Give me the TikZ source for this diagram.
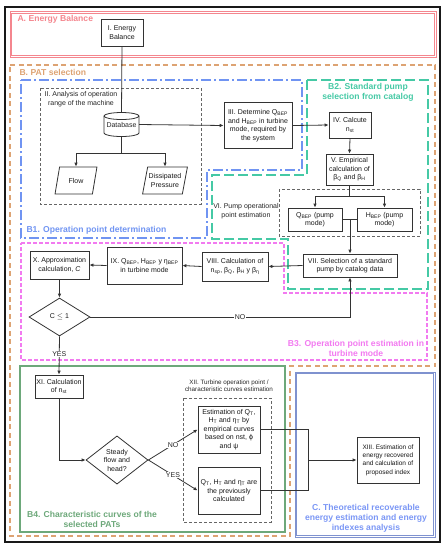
\documentclass[tikz,border=0pt]{standalone}
\usepackage{fontspec}
\setmainfont{Liberation Sans}
\usetikzlibrary{arrows.meta,shapes.geometric}
\definecolor{cA}{HTML}{F4868E}
\definecolor{cB}{HTML}{DDA373}
\definecolor{cBone}{HTML}{7094F2}
\definecolor{cBtwo}{HTML}{45C9A5}
\definecolor{cBthree}{HTML}{F27AF0}
\definecolor{cBfour}{HTML}{6DA87A}
\definecolor{cC}{HTML}{7F92CF}
\definecolor{cCt}{HTML}{7A96F5}
\newcommand{\mysub}[1]{\textsubscript{#1}}
\begin{document}
\begin{tikzpicture}[x=1pt,y=-1pt,
  box/.style={draw=black!80, line width=0.8pt, fill=white, align=center, inner sep=1pt, font=\fontsize{7}{8.5}\selectfont, text=black!90},
  conn/.style={draw=black!80, line width=0.8pt},
  arr/.style={conn, -{Latex[length=4pt,width=3.6pt]}},
  ttl/.style={font=\fontsize{8.6}{10}\selectfont\bfseries, align=center},
  lbl/.style={font=\fontsize{7}{8}\selectfont, fill=white, inner sep=0.5pt, text=black!85},
  plain/.style={font=\fontsize{7}{8.5}\selectfont, align=center, text=black!85},
  dashbox/.style={draw=black!60, line width=0.6pt, dash pattern=on 3pt off 2pt},
]
\useasboundingbox (0,0) rectangle (446,550);
% outer frame
\draw[line width=1.3pt, draw=black!90] (5,7) rectangle (440,542);
% A
\draw[draw=cA, line width=0.8pt] (10,11.5) rectangle (436,57);
\draw[draw=cA, line width=0.8pt] (11.7,13.2) rectangle (434.3,55.3);
\node[ttl, text=cA, anchor=west] (tA) at (14,19.5) {A. Energy Balance};
% B
\draw[draw=cB, line width=1.5pt, dash pattern=on 5pt off 3.5pt] (10,65) -- (435,65) -- (435,366) -- (290,366) -- (290,536) -- (10,536) -- cycle;
\node[ttl, text=cB, anchor=west] (tB) at (16,72) {B. PAT selection};
% B1
\draw[draw=cBone, line width=1.2pt, dash pattern=on 10pt off 3pt on 2pt off 3pt] (21,80) -- (302,80) -- (302,170) -- (207,170) -- (207,238) -- (21,238) -- cycle;
\node[ttl, text=cBone, anchor=west] (tB1) at (23,230) {B1. Operation point determination};
% B2
\draw[draw=cBtwo, line width=1.2pt, dash pattern=on 10pt off 4pt] (307,80) -- (428,80) -- (428,289) -- (288,289) -- (288,239) -- (212,239) -- (212,175) -- (307,175) -- cycle;
\node[ttl, text=cBtwo] (tB2) at (368,92) {B2. Standard pump\\selection from catalog};
% B3
\draw[draw=cBthree, line width=1.2pt, dash pattern=on 4pt off 2pt] (21,243) -- (284,243) -- (284,293) -- (427,293) -- (427,360) -- (21,360) -- cycle;
\node[ttl, text=cBthree] (tB3) at (356,348) {B3. Operation point estimation in\\turbine mode};
% B4
\draw[draw=cBfour, line width=1.2pt] (20,366) rectangle (285,532);
\node[ttl, text=cBfour] (tB4) at (92,519) {B4. Characteristic curves of the\\selected PATs};
% C
\draw[draw=cC, line width=0.8pt] (295,372) rectangle (435,537);
\draw[draw=cC, line width=0.8pt] (296.7,373.7) rectangle (433.3,535.3);
\node[ttl, text=cCt] (tC) at (366,518.5) {C. Theoretical recoverable\\energy estimation and energy\\indexes analysis};

% dashed groups
\draw[dashbox] (40,88) rectangle (201,204);
\node[plain] (tII) at (81,99) {II. Analysis of operation\\range of the machine};
\draw[dashbox] (279,189) rectangle (420,236);
\draw[dashbox] (183,398) rectangle (271,522);
\node[plain, font=\fontsize{6.3}{7.5}\selectfont] (tXII) at (229,385.5) {XII. Turbine operation point /\\characteristic curves estimation};
\node[plain] (tVI) at (246,211) {VI. Pump operational\\point estimation};

% nodes
\node[box, minimum width=42, minimum height=27] (I) at (122,32.5) {I. Energy\\Balance};
\draw[conn, fill=white] (104,116) -- (104,133) arc[start angle=180, end angle=0, x radius=17.5, y radius=3.5] -- (139,116) arc[start angle=0, end angle=-180, x radius=17.5, y radius=3.5] -- cycle;
\draw[conn] (104,116) arc[start angle=180, end angle=0, x radius=17.5, y radius=3.5];
\node[plain, minimum width=35, minimum height=25, inner sep=0pt] (db) at (121.5,124.5) {Database};
\node[box, trapezium, trapezium left angle=72, trapezium right angle=108, trapezium stretches=true, minimum width=42, minimum height=27] (flow) at (76,180.5) {Flow};
\node[box, trapezium, trapezium left angle=72, trapezium right angle=108, trapezium stretches=true, minimum width=44, minimum height=27] (diss) at (165,180.5) {Dissipated\\Pressure};
\node[box, minimum width=68, minimum height=46] (III) at (258,125.5) {III. Determine Q\mysub{BEP}\\and H\mysub{BEP} in turbine\\mode, required by\\the system};
\node[box, minimum width=42, minimum height=26] (IV) at (350,125) {IV. Calcute\\n\mysub{st}};
\node[box, minimum width=47, minimum height=31] (V) at (349.5,169.5) {V. Empirical\\calculation of\\β\mysub{Q} and β\mysub{H}};
\node[box, minimum width=54, minimum height=23] (Qb) at (315,219.5) {Q\mysub{BEP} (pump\\mode)};
\node[box, minimum width=55, minimum height=23] (Hb) at (384.5,219.5) {H\mysub{BEP} (pump\\mode)};
\node[box, minimum width=94, minimum height=23] (VII) at (350,265.5) {VII. Selection of a standard\\pump by catalog data};
\node[box, minimum width=66, minimum height=29] (VIII) at (235,266.5) {VIII. Calculation of\\n\mysub{sp}, β\mysub{Q}, β\mysub{H} y β\mysub{η}};
\node[box, minimum width=75, minimum height=37] (IX) at (144.5,265.5) {IX. Q\mysub{BEP}, H\mysub{BEP} y η\mysub{BEP}\\in turbine mode};
\node[box, minimum width=59, minimum height=28] (X) at (59.5,265) {X. Approximation\\calculation, \textit{C}};
\node[box, diamond, minimum width=61, minimum height=38, inner sep=0pt] (dC) at (59.5,317) {C $\leq$ 1};
\node[box, minimum width=48, minimum height=23] (XI) at (59,386.5) {XI. Calculation\\of n\mysub{st}};
\node[box, diamond, minimum width=62, minimum height=46, inner sep=0pt] (dS) at (117,460) {Steady\\flow and\\head?};
\node[box, minimum width=62, minimum height=47] (EST) at (229,429.5) {Estimation of Q\mysub{T},\\H\mysub{T} and η\mysub{T} by\\empirical curves\\based on nst, ϕ\\and ψ};
\node[box, minimum width=62, minimum height=47] (PREV) at (229,490.5) {Q\mysub{T}, H\mysub{T} and η\mysub{T} are\\the previously\\calculated};
\node[box, minimum width=62, minimum height=46, font=\fontsize{6.5}{8.3}\selectfont] (XIII) at (388,460) {XIII. Estimation of\\energy recovered\\and calculation of\\proposed index};

% connectors
\draw[conn] (I.south) -- (db.north);
\draw[arr] (db.east) -- (III.west);
\draw[arr] (db.south) -- ++(0,16) -| (flow.north);
\draw[arr] (db.south) -- ++(0,16) -| (diss.north);
\draw[arr] (III.east) -- (IV.west);
\draw[arr] (IV.south) -- (V.north);
\draw[arr] (V.south) -- ++(0,11) -| (Qb.north);
\draw[arr] (V.south) -- ++(0,11) -| (Hb.north);
\draw[conn] (Qb.east) -- (Hb.west);
\draw[arr] (VII.north |- Qb.east) -- (VII.north);
\draw[arr] (VII.west) -- (VIII.east);
\draw[arr] (VIII.west) -- (IX.east);
\draw[arr] (IX.west) -- (X.east);
\draw[arr] (X.south) -- (dC.north);
\draw[arr] (dC.east) -- node[lbl, pos=0.577] {NO} (dC.east -| VII.south) -- (VII.south);
\draw[arr] (dC.south) -- node[lbl, pos=0.46] {YES} (XI.north);
\draw[arr] (XI.south) |- (dS.west);
\draw[arr] (dS.east) -- node[lbl, pos=0.5] {NO} (EST.west);
\draw[arr] (dS.east) -- node[lbl, pos=0.5] {YES} (PREV.west);
\coordinate (j) at (308,460);
\draw[conn] (EST.east) -| (j);
\draw[conn] (PREV.east) -| (j);
\draw[arr] (j) -- (XIII.west);
\end{tikzpicture}
\end{document}
